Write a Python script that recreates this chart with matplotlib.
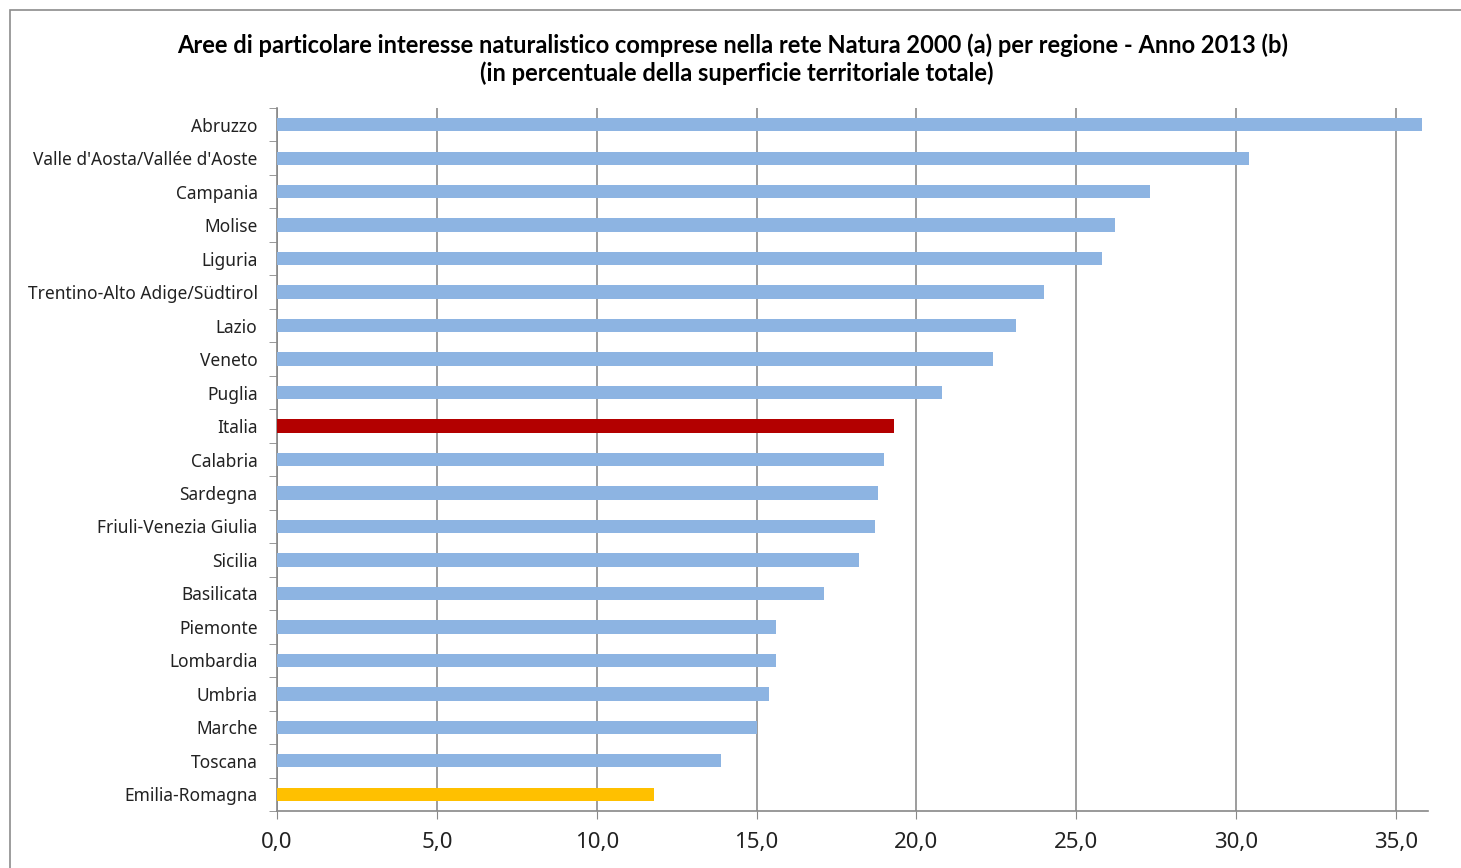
import matplotlib
matplotlib.use("Agg")
import matplotlib.pyplot as plt
from matplotlib.patches import Rectangle
import numpy as np

# dati (percentuale della superficie territoriale)
regioni = ["Abruzzo", "Valle d'Aosta/Vallée d'Aoste", "Campania", "Molise", "Liguria",
           "Trentino-Alto Adige/Südtirol", "Lazio", "Veneto", "Puglia", "Italia",
           "Calabria", "Sardegna", "Friuli-Venezia Giulia", "Sicilia", "Basilicata",
           "Piemonte", "Lombardia", "Umbria", "Marche", "Toscana", "Emilia-Romagna"]
valori = [35.8, 30.4, 27.3, 26.2, 25.8, 24.0, 23.1, 22.4, 20.8, 19.3,
          19.0, 18.8, 18.7, 18.2, 17.1, 15.6, 15.6, 15.4, 15.0, 13.9, 11.8]
xticks = [0, 5, 10, 15, 20, 25, 30, 35]

blu = "#8DB4E2"
colori = []
for r in regioni:
    if r == "Italia":
        colori.append("#B30000")
    elif r == "Emilia-Romagna":
        colori.append("#FFC000")
    else:
        colori.append(blu)

plt.rcParams['font.family'] = ['Noto Sans', 'DejaVu Sans']

fig = plt.figure(figsize=(14.61, 8.68), dpi=100)
ax = fig.add_axes([277/1461, 1 - 811/868, (1428-277)/1461, (811-108)/868])

pos = np.arange(len(regioni))
ax.barh(pos, valori, height=0.4, color=colori, zorder=3)
ax.set_ylim(len(regioni) - 0.5, -0.5)
ax.set_xlim(0, 36)

ax.set_yticks(pos)
ax.set_yticklabels(regioni, fontsize=12.5, color="#222222")
ax.set_yticks(np.arange(-0.5, len(regioni), 1), minor=True)
ax.tick_params(axis='y', which='major', length=0, pad=14)
ax.tick_params(axis='y', which='minor', length=6, color="#888888", direction='out')

ax.set_xticks(xticks)
ax.set_xticklabels([("%.1f" % v).replace(".", ",") for v in xticks], fontsize=16, color="#222222")
ax.tick_params(axis='x', length=6, color="#888888", pad=9)

ax.grid(axis='x', color="#8c8c8c", linewidth=1.2, zorder=0)
for s in ['top', 'right']:
    ax.spines[s].set_visible(False)
for s in ['left', 'bottom']:
    ax.spines[s].set_color("#888888")
    ax.spines[s].set_linewidth(1.2)

fig.text(733/1461, 1 - 45/868,
         "Aree di particolare interesse naturalistico comprese nella rete Natura 2000 (a) per regione - Anno 2013 (b)",
         ha='center', va='center', fontsize=17, fontweight='bold', family=['Lato', 'DejaVu Sans'])
fig.text(737/1461, 1 - 73/868,
         "(in percentuale della superficie territoriale totale)",
         ha='center', va='center', fontsize=17, fontweight='bold', family=['Lato', 'DejaVu Sans'])

# cornice del grafico
fig.patches.append(Rectangle((10/1461, -0.05), 1.1, 1 - 10/868 + 0.05, transform=fig.transFigure,
                             fill=False, edgecolor="#8c8c8c", linewidth=1.2))

fig.savefig("out.png", dpi=100)
